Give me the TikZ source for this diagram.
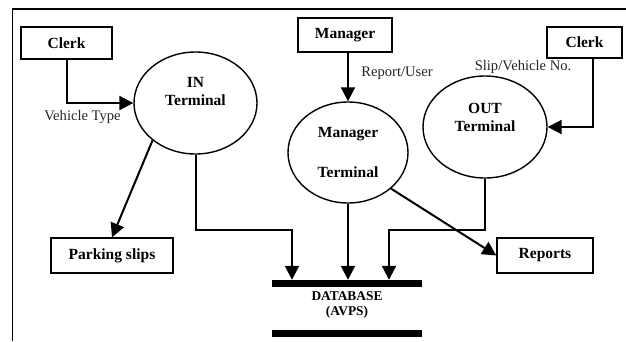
\documentclass[tikz,border=0pt]{standalone}
\usepackage{fontspec}
\setmainfont{Liberation Serif}
\usetikzlibrary{arrows.meta,shapes.geometric,calc}
\begin{document}
\begin{tikzpicture}[x=1pt,y=-1pt,
  box/.style={draw,line width=1.3pt,inner sep=0pt,font=\bfseries\fontsize{15.5}{18}\selectfont},
  ell/.style={draw,ellipse,line width=1.4pt,inner sep=0pt,align=center,font=\bfseries\fontsize{15.5}{18}\selectfont},
  btext/.style={align=center,inner sep=0pt,font=\bfseries\fontsize{15.5}{18}\selectfont},
  lbl/.style={inner sep=0pt,text=black!85,font=\fontsize{14.6}{16}\selectfont},
  arr/.style={line width=2pt,-{Triangle[length=14pt,width=14pt]}},
  frame/.style={line width=1.3pt}]
\useasboundingbox (0,0) rectangle (626,341);
% frame
\coordinate (ftl) at (12.5,9);
\coordinate (ftr) at (626,9);
\coordinate (fbl) at (12.5,341);
\draw[frame] (fbl) -- (ftl) -- (ftr);
% boxes
\node[box,minimum width=91pt,minimum height=32pt] (clerk1) at (66.5,43) {Clerk};
\node[box,minimum width=94pt,minimum height=34pt] (manager) at (345,35) {Manager};
\node[box,minimum width=75pt,minimum height=31pt] (clerk2) at (584.5,42.5) {Clerk};
\node[box,minimum width=122pt,minimum height=35pt] (parking) at (112,255.5) {Parking slips};
\node[box,minimum width=96pt,minimum height=35pt] (reports) at (545,255.5) {Reports};
% ellipses
\node[ell,minimum width=123pt,minimum height=102pt] (in) at (195.5,103) {};
\node[btext] (intext) at (195.5,91) {IN\\Terminal};
\node[ell,minimum width=120pt,minimum height=101pt] (mterm) at (348,152.5) {Manager\\[22pt]Terminal};
\node[ell,minimum width=124pt,minimum height=102pt] (out) at (485,127) {};
\node[btext] (outtext) at (485,117) {OUT\\Terminal};
% database
\node[minimum width=150pt,minimum height=57pt,inner sep=0pt] (db) at (347,308.5) {};
\draw[line width=7pt] ([yshift=-3.5pt]db.north west) -- ([yshift=-3.5pt]db.north east);
\draw[line width=7pt] ([yshift=3.5pt]db.south west) -- ([yshift=3.5pt]db.south east);
\node[btext,font=\bfseries\fontsize{13.4}{15}\selectfont] (dbtext) at (347,305) {DATABASE\\(AVPS)};
% connectors
\draw[arr] (clerk1.south) |- (in.west);
\node[lbl] (l1) at (82.5,117) {Vehicle Type};
\draw[arr] (manager.south -| mterm.north) -- (mterm.north);
\node[lbl] (l2) at (397,73) {Report/User};
\draw[arr] ([xshift=8pt]clerk2.south) |- (out.east);
\node[lbl] (l3) at (523,67) {Slip/Vehicle No.};
\draw[arr] (in.221) -- (parking.north);
\coordinate (jin) at (292,230);
\draw[arr] (in.south) |- (jin) -- (jin |- db.north);
\draw[arr] (mterm.south) -- (mterm.south |- db.north);
\coordinate (jout) at (389,230);
\draw[arr] (out.south) |- (jout) -- (jout |- db.north);
\draw[arr] (mterm.320) -- (reports.west);
\end{tikzpicture}
\end{document}
